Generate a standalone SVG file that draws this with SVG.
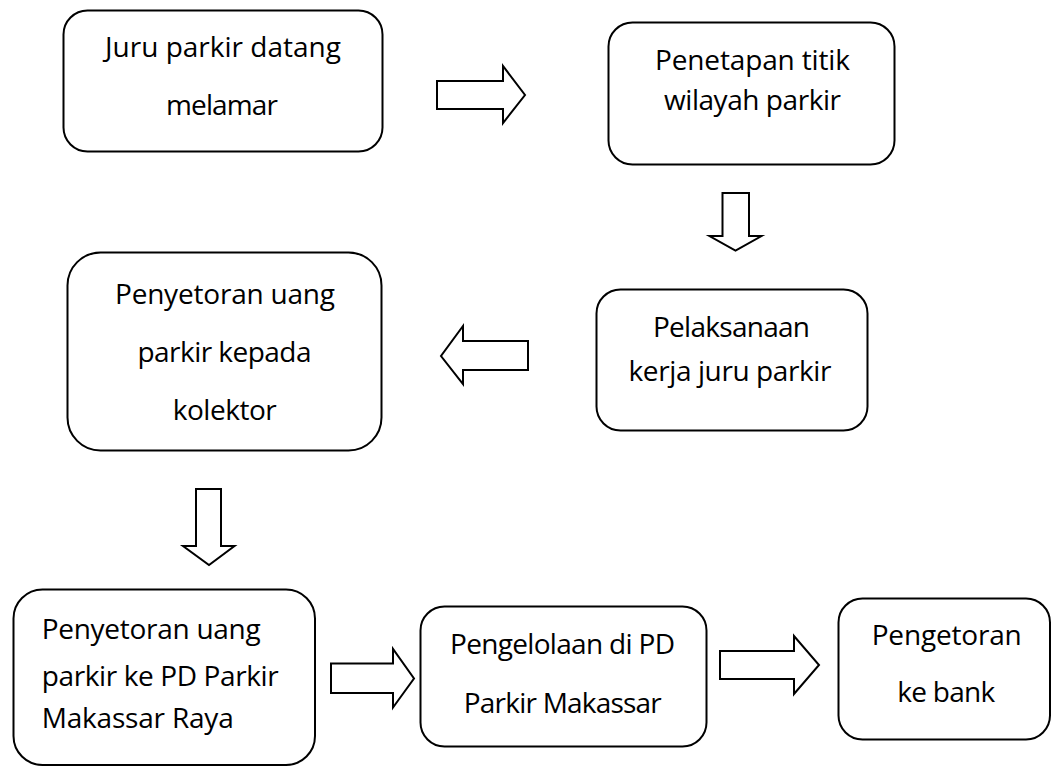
<svg xmlns="http://www.w3.org/2000/svg" width="1052" height="767" viewBox="0 0 1052 767">
<style>
.box{fill:#fff;stroke:#000;stroke-width:2}
.arr{fill:#fff;stroke:#000;stroke-width:2;stroke-linejoin:miter}
text{font-family:"Open Sans","Noto Sans","Liberation Sans",sans-serif;font-size:28px;fill:#000}
.c{text-anchor:middle}
</style>
<rect width="1052" height="767" fill="#fff"/>
<g id="n1">
<rect class="box" x="63.5" y="10.5" width="319" height="141" rx="24"/>
<text class="c" x="223" y="57" textLength="236">Juru parkir datang</text>
<text class="c" x="222" y="115" textLength="112">melamar</text>
</g>
<g id="n2">
<rect class="box" x="608.5" y="22.5" width="286" height="142" rx="24"/>
<text class="c" x="752.5" y="70" textLength="195">Penetapan titik</text>
<text class="c" x="752.5" y="110" textLength="177">wilayah parkir</text>
</g>
<g id="n3">
<rect class="box" x="596.5" y="289.5" width="271" height="141" rx="24"/>
<text class="c" x="731.5" y="336.5" textLength="157">Pelaksanaan</text>
<text class="c" x="730" y="381" textLength="203">kerja juru parkir</text>
</g>
<g id="n4">
<rect class="box" x="67.5" y="252.5" width="314" height="198" rx="33"/>
<text class="c" x="225" y="304" textLength="220">Penyetoran uang</text>
<text class="c" x="224.5" y="361.5" textLength="174">parkir kepada</text>
<text class="c" x="224.7" y="420" textLength="104">kolektor</text>
</g>
<g id="n5">
<rect class="box" x="13.5" y="589.5" width="301.5" height="175.5" rx="29"/>
<text x="41.7" y="639.3" textLength="219">Penyetoran uang</text>
<text x="41.7" y="686" textLength="237">parkir ke PD Parkir</text>
<text x="41.7" y="728.3" textLength="192">Makassar Raya</text>
</g>
<g id="n6">
<rect class="box" x="420.5" y="606.5" width="286" height="140" rx="24"/>
<text class="c" x="562.5" y="654" textLength="225">Pengelolaan di PD</text>
<text class="c" x="562.8" y="712.7" textLength="198">Parkir Makassar</text>
</g>
<g id="n7">
<rect class="box" x="838.5" y="598.5" width="211.5" height="141" rx="24"/>
<text class="c" x="946.7" y="645" textLength="150">Pengetoran</text>
<text class="c" x="946.2" y="701.7" textLength="98">ke bank</text>
</g>
<g id="connectors">
<polygon class="arr" points="437,81 503,81 503,66 525,95 503,123 503,109 437,109"/>
<polygon class="arr" points="722.5,193 749,193 749,236 761.5,236 735.5,250.5 709.5,236 722.5,236"/>
<polygon class="arr" points="528,341 463,341 463,326 441,356 463,384 463,370 528,370"/>
<polygon class="arr" points="196,489 221,489 221,546 234.5,546 209,565 183,546 196,546"/>
<polygon class="arr" points="331,663.5 393,663.5 393,649 414,678.5 393,707.5 393,693 331,693"/>
<polygon class="arr" points="720,651 794,651 794,636 819,665 794,694 794,679 720,679"/>
</g>
</svg>
